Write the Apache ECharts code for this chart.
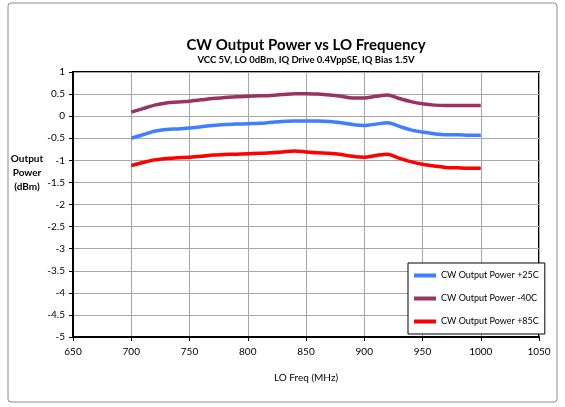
<!DOCTYPE html>
<html><head><meta charset="utf-8">
<script src="https://cdn.jsdelivr.net/npm/echarts@6/dist/echarts.min.js"></script>
<style>html,body{margin:0;padding:0;background:#fff}#c{width:565px;height:407px}</style>
</head><body><div id="c"></div>
<script>
const freqs = [700,710,720,730,740,750,760,770,780,790,800,810,820,830,840,850,860,870,880,890,900,910,920,930,940,950,960,970,980,990,1000];
const p25 = [-0.50,-0.42,-0.34,-0.30,-0.29,-0.27,-0.24,-0.21,-0.19,-0.18,-0.17,-0.16,-0.14,-0.12,-0.11,-0.11,-0.11,-0.12,-0.15,-0.19,-0.21,-0.18,-0.15,-0.23,-0.31,-0.36,-0.40,-0.42,-0.42,-0.43,-0.43];
const m40 = [0.09,0.17,0.25,0.30,0.32,0.34,0.37,0.40,0.42,0.44,0.45,0.46,0.47,0.49,0.51,0.51,0.50,0.48,0.45,0.41,0.41,0.45,0.48,0.40,0.33,0.28,0.25,0.24,0.24,0.24,0.24];
const p85 = [-1.12,-1.05,-0.99,-0.96,-0.94,-0.93,-0.91,-0.88,-0.87,-0.86,-0.85,-0.84,-0.83,-0.81,-0.79,-0.81,-0.83,-0.84,-0.87,-0.91,-0.93,-0.89,-0.86,-0.95,-1.03,-1.09,-1.13,-1.16,-1.17,-1.18,-1.18];
const seriesNames = ['CW Output Power +25C','CW Output Power -40C','CW Output Power +85C'];
const titleText = 'CW Output Power vs LO Frequency';
const subtitleText = 'VCC 5V, LO 0dBm, IQ Drive 0.4VppSE, IQ Bias 1.5V';
const yAxisTitle = 'Output\nPower\n(dBm)';
const xAxisTitle = 'LO Freq (MHz)';

const font = 'Lato, "Open Sans", sans-serif';
const pair = (ys) => freqs.map((f, i) => [f, ys[i]]);
const chart = echarts.init(document.getElementById('c'), null, {renderer: 'canvas'});
const mk = (name, ys, color) => ({
  name, type: 'line', data: pair(ys), showSymbol: false, symbol: 'none', smooth: 0.3,
  lineStyle: {width: 3.5, color}, itemStyle: {color}
});
chart.setOption({
  animation: false,
  backgroundColor: '#fff',
  graphic: [
    {type: 'rect', shape: {x: 8, y: 3, width: 549, height: 399, r: 3}, style: {fill: 'none', stroke: '#8c8c8c', lineWidth: 1}, z: -1},
    {type: 'text', x: 27, y: 152, style: {text: yAxisTitle, fontFamily: font, fontSize: 10, fontWeight: 'bold', fill: '#000', align: 'center', verticalAlign: 'top', lineHeight: 14}}
  ],
  title: {
    text: titleText, subtext: subtitleText, left: 301, top: 33, textAlign: 'center', itemGap: 2,
    textStyle: {fontFamily: font, fontSize: 15, fontWeight: 'bold', color: '#000'},
    subtextStyle: {fontFamily: font, fontSize: 9.5, fontWeight: 'bold', color: '#000'}
  },
  grid: {left: 73, right: 26, top: 72, bottom: 70, show: true, borderColor: '#000', borderWidth: 2, containLabel: false},
  legend: {
    orient: 'vertical', left: 408, top: 263, width: 122, itemWidth: 22, itemHeight: 4, itemGap: 14,
    padding: [8, 6, 8, 6], backgroundColor: '#fff', borderColor: '#000', borderWidth: 1,
    textStyle: {fontFamily: font, fontSize: 9, color: '#000'},
    icon: 'rect', data: seriesNames
  },
  xAxis: {
    type: 'value', min: 650, max: 1050, interval: 50,
    name: xAxisTitle, nameLocation: 'middle', nameGap: 36,
    nameTextStyle: {fontFamily: font, fontSize: 10, color: '#000'},
    axisLine: {onZero: false, lineStyle: {color: '#000', width: 2}},
    axisTick: {show: true, length: 4, lineStyle: {color: '#000'}},
    axisLabel: {fontFamily: font, fontSize: 10, color: '#000', margin: 10, formatter: (v) => String(v)},
    splitLine: {show: true, lineStyle: {color: '#a6a6a6', width: 1}}
  },
  yAxis: {
    type: 'value', min: -5, max: 1, interval: 0.5,
    axisLine: {show: true, onZero: false, lineStyle: {color: '#000', width: 2}},
    axisTick: {show: true, length: 4, lineStyle: {color: '#000'}},
    axisLabel: {fontFamily: font, fontSize: 10, color: '#000', margin: 8, formatter: (v) => String(v)},
    splitLine: {show: true, lineStyle: {color: '#a6a6a6', width: 1}}
  },
  series: [
    mk(seriesNames[0], p25, '#3F7FFF'),
    mk(seriesNames[1], m40, '#993366'),
    mk(seriesNames[2], p85, '#FF0000')
  ]
});
</script></body></html>
